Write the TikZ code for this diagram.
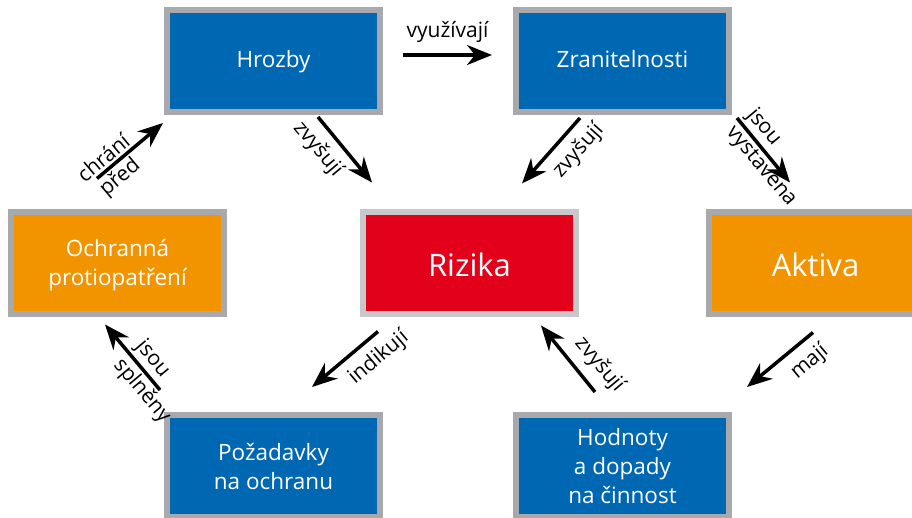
\documentclass[tikz,border=0pt]{standalone}
\usepackage{fontspec}
\setmainfont{Open Sans}
\usetikzlibrary{arrows.meta}

\definecolor{riskblue}{RGB}{0,104,179}
\definecolor{riskorange}{RGB}{242,148,0}
\definecolor{riskred}{RGB}{226,0,26}
\definecolor{framegray}{RGB}{167,169,172}
\definecolor{lightframe}{RGB}{200,200,202}

\begin{document}
\begin{tikzpicture}[
            x=1pt, y=-1pt,
            box/.style={draw=framegray, line width=6pt, minimum width=213pt, minimum height=102pt,
                inner sep=2pt, text=white, align=center, font=\fontsize{22.5}{29}\selectfont},
            blue node/.style={box, fill=riskblue},
            orange node/.style={box, fill=riskorange},
            one line/.style={text height=17pt, text depth=5pt},
            big node/.style={font=\fontsize{31}{37}\selectfont, text height=28pt, text depth=0pt},
            every edge/.style={draw, line width=3.5pt, -{Stealth[length=25pt, width=20pt, inset=8pt]}},
            edge label/.style={font=\fontsize{21}{27}\selectfont, inner sep=1pt, outer sep=9pt},
            twin label/.style={edge label, outer sep=3pt},
        ]
            \useasboundingbox (0,0) rectangle (912,517);
            \clip (0,0) rectangle (912,517);

            \node[blue node, one line] (hrozby) at (273.5, 61) {Hrozby};
            \node[blue node, one line] (zranitelnosti) at (622.5, 61) {Zranitelnosti};
            \node[orange node, text depth=0pt] (ochrana) at (117.5, 262.5) {Ochranná\\protiopatření};
            \node[box, big node, fill=riskred, draw=lightframe] (rizika) at (469.5, 262.5) {Rizika};
            \node[orange node, big node] (aktiva) at (815.5, 262.5) {Aktiva};
            \node[blue node] (pozadavky) at (273.5, 466) {Požadavky\\na ochranu};
            \node[blue node] (hodnoty) at (622.5, 466) {Hodnoty\\a dopady\\na činnost};

            \path ([shift={(20,-6)}]hrozby.east) edge node[edge label, anchor=south, outer sep=11pt] {využívají} ([shift={(-21,-6)}]zranitelnosti.west);
            \path ([shift={(44.5,2)}]hrozby.south) edge node[edge label, pos=.29, rotate=-50, anchor=north] {zvyšují} ([shift={(12,-26)}]rizika.north west);
            \path ([shift={(-42.5,3)}]zranitelnosti.south) edge node[edge label, pos=.29, rotate=48, anchor=north] {zvyšují} ([shift={(-57,-25)}]rizika.north east);
            \path ([shift={(5,3)}]zranitelnosti.south east) edge
                node[twin label, pos=0, rotate=-50, anchor=south west] {jsou}
                node[twin label, pos=0, rotate=-50, anchor=north west] {vystavena} ([shift={(84,-26)}]aktiva.north west);
            \path ([shift={(-20.5,-30)}]ochrana.north) edge
                node[twin label, pos=.21, rotate=40, anchor=south] {chrání}
                node[twin label, pos=.21, rotate=40, anchor=north] {před} ([shift={(-1,8)}]hrozby.south west);
            \path ([shift={(-4,-22)}]pozadavky.north west) edge
                node[twin label, pos=.62, rotate=-50, anchor=south west] {jsou}
                node[twin label, pos=.62, rotate=-50, anchor=north west] {splněny} ([shift={(-12.5,8)}]ochrana.south);
            \path ([shift={(18,15)}]rizika.south west) edge node[edge label, pos=.19, rotate=40, anchor=north] {indikují} ([shift={(-71,-25)}]pozadavky.north east);
            \path ([shift={(82,-20)}]hodnoty.north west) edge node[edge label, pos=.21, rotate=-50, anchor=south] {zvyšují} ([shift={(-38,9)}]rizika.south east);
            \path ([shift={(-2.5,16)}]aktiva.south) edge node[edge label, pos=.25, rotate=40, anchor=north] {mají} ([shift={(15,-25)}]hodnoty.north east);
        \end{tikzpicture}
\end{document}
